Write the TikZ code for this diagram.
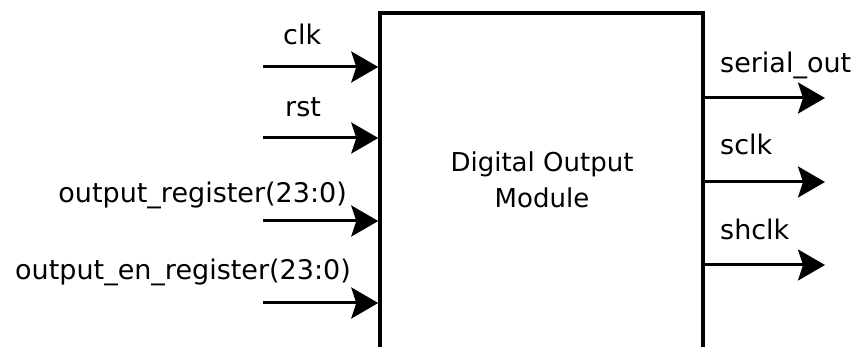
\documentclass[tikz,border=0pt]{standalone}
\usepackage{fontspec}
\setmainfont{DejaVu Sans}
\usetikzlibrary{arrows.meta,calc}
\begin{document}
\begin{tikzpicture}[x=1pt,y=-1pt,
  sig/.style={line width=3pt,-{Stealth[length=27pt,width=31pt,inset=5pt]}},
  port/.style={inner sep=0pt,font=\fontsize{27}{36}\selectfont},
  block/.style={draw,line width=3.5pt,minimum width=323pt,minimum height=387pt,inner sep=0pt}]
  % page frame; the block runs on past the lower edge
  \clip (0,0) rectangle (855,347);
  \fill[white] (0,0) rectangle (855,347);

  % the module body
  \node[block] (dut) at (541.5,206.5) {};
  \node[port,align=center,font=\fontsize{26}{36}\selectfont,anchor=base] (title) at (542,208)
    {Digital Output\\Module};

  % input ports
  \coordinate (clkin) at (263,67);
  \coordinate (rstin) at (263,138);
  \coordinate (oregin) at (263,221);
  \coordinate (oenin) at (263,303);
  \draw[sig] (clkin) -- (clkin -| dut.west);
  \draw[sig] (rstin) -- (rstin -| dut.west);
  \draw[sig] (oregin) -- (oregin -| dut.west);
  \draw[sig] (oenin) -- (oenin -| dut.west);
  \node[port,anchor=base west] (clklbl) at (283,45) {clk};
  \node[port,anchor=base west] (rstlbl) at (285,117) {rst};
  \node[port,anchor=base east] (oreglbl) at (347,203) {output\_register(23:0)};
  \node[port,anchor=base east] (oenlbl) at (351,280) {output\_en\_register(23:0)};

  % output ports
  \coordinate (serout) at (825,98);
  \coordinate (sclkout) at (825,182);
  \coordinate (shclkout) at (825,265);
  \draw[sig] (serout -| dut.east) -- (serout);
  \draw[sig] (sclkout -| dut.east) -- (sclkout);
  \draw[sig] (shclkout -| dut.east) -- (shclkout);
  \node[port,anchor=base west] (serlbl) at (720,73) {serial\_out};
  \node[port,anchor=base west] (sclklbl) at (720,155) {sclk};
  \node[port,anchor=base west] (shclklbl) at (720,240) {shclk};
\end{tikzpicture}
\end{document}
